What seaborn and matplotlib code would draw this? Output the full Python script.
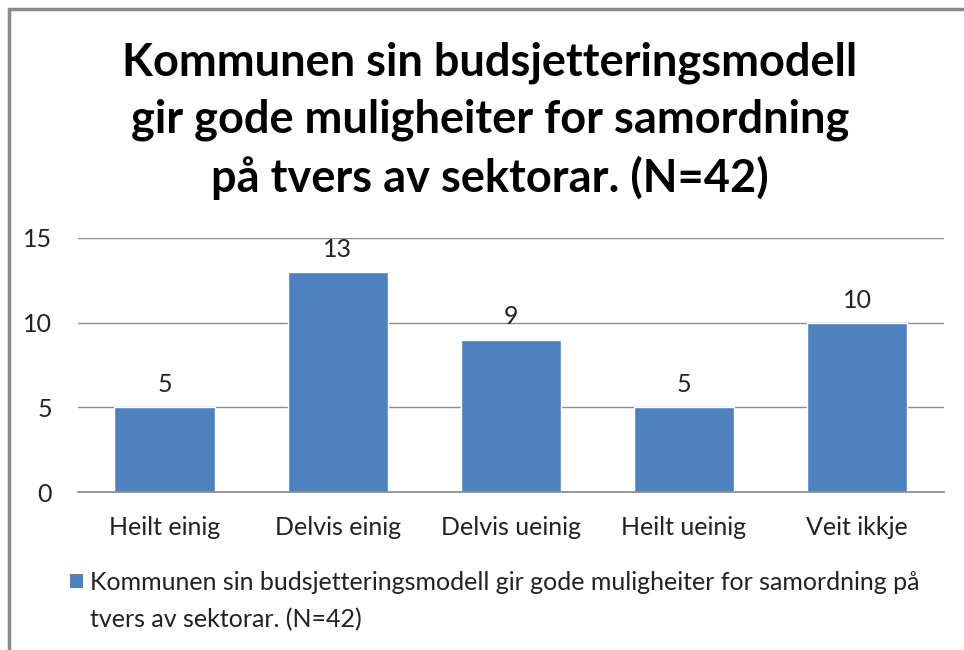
import pandas as pd
import matplotlib.pyplot as plt
import seaborn as sns
from matplotlib.patches import Rectangle, Patch

categories = ["Heilt einig", "Delvis einig", "Delvis ueinig", "Heilt ueinig", "Veit ikkje"]
counts = [5, 13, 9, 5, 10]
title = "Kommunen sin budsjetteringsmodell\ngir gode muligheiter for samordning\npå tvers av sektorar. (N=42)"
legend_lines = ["Kommunen sin budsjetteringsmodell gir gode muligheiter for samordning på",
                "tvers av sektorar. (N=42)"]

sns.set_theme(style="white")
plt.rcParams['font.family'] = ['Lato', 'DejaVu Sans']

df = pd.DataFrame({"kategori": categories, "antal": counts})
bar_color = "#4F81BD"
text_color = "#222222"

fig = plt.figure(figsize=(9.64, 6.5), dpi=100)
ax = fig.add_axes([0.081, 0.243, 0.898, 0.391])

sns.barplot(data=df, x="kategori", y="antal", color=bar_color, width=0.58,
            saturation=1, ax=ax)

ax.set_ylim(0, 15)
ax.set_yticks([0, 5, 10, 15])
ax.yaxis.grid(True, color="#8c8c8c", linewidth=1)
ax.set_axisbelow(True)
for s in ["top", "right", "left"]:
    ax.spines[s].set_visible(False)
ax.spines["bottom"].set_color("#8c8c8c")
ax.set_xlabel("")
ax.set_ylabel("")
ax.tick_params(axis="y", length=0, pad=19, labelsize=18, colors=text_color)
ax.tick_params(axis="x", length=0, pad=17, labelsize=18, colors=text_color)

# value labels above bars
for i, v in enumerate(counts):
    ax.annotate(str(v), (i, v), xytext=(0, 8), textcoords="offset points",
                ha="center", va="bottom", fontsize=18, color=text_color)

fig.text(0.508, 1 - 121 / 650, title, ha="center", va="center", fontsize=32.5,
         fontweight="bold", linespacing=1.42, color="black")

# legend: second row has an invisible handle so the text wraps like the original
handles = [Patch(facecolor=bar_color, edgecolor="none"),
           Patch(facecolor="none", edgecolor="none")]
fig.legend(handles, legend_lines, loc="upper left", bbox_to_anchor=(70 / 964, 1 - 571 / 650),
           frameon=False, fontsize=18, handlelength=0.52, handleheight=0.52,
           handletextpad=0.28, labelspacing=0.56, borderpad=0, borderaxespad=0,
           labelcolor=text_color)

# chart border (top and left visible, cropped at right/bottom)
fig.patches.append(Rectangle((9 / 964, -0.1), 1.2, 1 - 9 / 650 + 0.1,
                             transform=fig.transFigure, fill=False,
                             edgecolor="#8a8a8a", linewidth=2.5))

fig.savefig("out.png", dpi=100)
